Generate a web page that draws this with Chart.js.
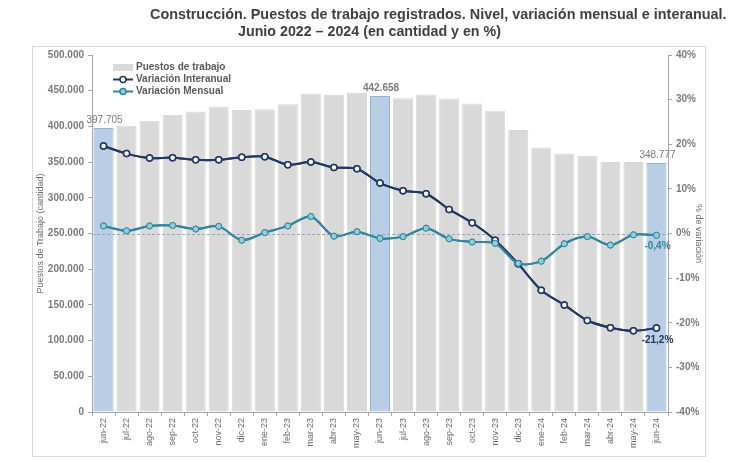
<!DOCTYPE html>
<html>
<head>
<meta charset="utf-8">
<script src="https://cdn.jsdelivr.net/npm/chart.js@4.4.1/dist/chart.umd.min.js"></script>
<style>
  html, body { margin: 0; padding: 0; background: #fff; }
  #wrap { width: 730px; height: 462px; position: relative; }
</style>
</head>
<body>
<div id="wrap"><canvas id="chart" width="730" height="462"></canvas></div>
<script>
// Data
const months = ['jun-22', 'jul-22', 'ago-22', 'sep-22', 'oct-22', 'nov-22', 'dic-22',
  'ene-23', 'feb-23', 'mar-23', 'abr-23', 'may-23', 'jun-23', 'jul-23', 'ago-23',
  'sep-23', 'oct-23', 'nov-23', 'dic-23', 'ene-24', 'feb-24', 'mar-24', 'abr-24',
  'may-24', 'jun-24'];
const puestos = [397705, 401000, 408000, 416000, 421000, 428000, 423000,
  424000, 431000, 446000, 444000, 447000, 442658, 439600, 444800,
  439000, 432000, 422000, 394800, 370600, 362000, 359000, 350000,
  350000, 348777];
const varInteranual = [19.6, 17.9, 16.9, 17.0, 16.5, 16.5, 17.1,
  17.2, 15.4, 16.0, 14.8, 14.5, 11.3, 9.6, 8.9,
  5.4, 2.4, -1.5, -6.8, -12.7, -16.0, -19.5, -21.1,
  -21.8, -21.2];
const varMensual = [1.7, 0.6, 1.7, 1.8, 1.0, 1.6, -1.5,
  0.2, 1.7, 3.8, -0.6, 0.4, -1.1, -0.7, 1.2,
  -1.2, -1.9, -2.2, -6.7, -6.2, -2.3, -0.7, -2.6,
  -0.3, -0.4];
const highlighted = ['jun-22', 'jun-23', 'jun-24'];
const leftTicks = { min: 0, max: 500000, step: 50000 };
const rightTicks = { min: -40, max: 40, step: 10 };

const titleLines = [
  'Construcción. Puestos de trabajo registrados. Nivel, variación mensual e interanual.',
  'Junio 2022 – 2024 (en cantidad y en %)'
];

const GRAY_BAR = '#d9d9d9';
const BLUE_BAR = '#b9cde5';
const NAVY = '#1f3864';
const TEAL = '#31859c';
const TEAL_LIGHT = '#92cddc';
const TXT = '#7a7a7a';

// thousands with dots
function fmt(n) {
  return String(Math.round(n)).replace(/\B(?=(\d{3})+(?!\d))/g, '.');
}

const barColors = months.map(m => highlighted.includes(m) ? BLUE_BAR : GRAY_BAR);
const barBorders = months.map(m => highlighted.includes(m) ? '#95b3d7' : GRAY_BAR);

// frame, titles, zero line, legend and value labels
const extras = {
  id: 'extras',
  beforeDraw(chart) {
    const ctx = chart.ctx;
    ctx.save();
    ctx.fillStyle = '#fff';
    ctx.fillRect(0, 0, chart.width, chart.height);
    ctx.strokeStyle = '#d9d9d9';
    ctx.lineWidth = 1;
    ctx.strokeRect(32.5, 46.5, 673, 410);

    // title, two lines fitted to the widths in the reference
    ctx.fillStyle = '#404040';
    ctx.textBaseline = 'middle';
    ctx.textAlign = 'left';
    const spots = [{ x: 150, y: 15, w: 577 }, { x: 238, y: 32, w: 263 }];
    titleLines.forEach((t, i) => {
      ctx.font = 'bold 14px "Liberation Sans", Arial, sans-serif';
      const mw = ctx.measureText(t).width;
      const size = 14 * spots[i].w / mw;
      ctx.font = 'bold ' + size.toFixed(2) + 'px "Liberation Sans", Arial, sans-serif';
      ctx.fillText(t, spots[i].x, spots[i].y);
    });
    ctx.restore();
  },
  beforeDatasetsDraw(chart) {
    // nothing
  },
  afterDatasetsDraw(chart) {
    const ctx = chart.ctx;
    const area = chart.chartArea;
    const y2 = chart.scales.y2;
    ctx.save();

    // dashed zero line
    const zy = Math.round(y2.getPixelForValue(0)) + 0.5;
    ctx.strokeStyle = '#8ea9c8';
    ctx.setLineDash([3, 2]);
    ctx.lineWidth = 1;
    ctx.beginPath();
    ctx.moveTo(area.left, zy);
    ctx.lineTo(area.right, zy);
    ctx.stroke();
    ctx.setLineDash([]);

    // redraw lines on top of dashed line
    [1, 2].forEach(i => chart.getDatasetMeta(i).controller.draw());

    // legend
    ctx.font = 'bold 10px "Liberation Sans", Arial, sans-serif';
    ctx.textBaseline = 'middle';
    ctx.textAlign = 'left';
    ctx.fillStyle = GRAY_BAR;
    ctx.fillRect(113, 64, 20, 7);
    ctx.fillStyle = '#595959';
    ctx.fillText(chart.data.datasets[0].label, 136, 67.5);
    const legLines = [
      { y: 79.5, ds: chart.data.datasets[1] },
      { y: 91.5, ds: chart.data.datasets[2] }
    ];
    legLines.forEach(l => {
      ctx.strokeStyle = l.ds.borderColor;
      ctx.lineWidth = 2;
      ctx.beginPath();
      ctx.moveTo(113, l.y);
      ctx.lineTo(133, l.y);
      ctx.stroke();
      ctx.beginPath();
      ctx.arc(123, l.y, 3, 0, Math.PI * 2);
      ctx.fillStyle = l.ds.pointBackgroundColor;
      ctx.fill();
      ctx.lineWidth = 1.5;
      ctx.stroke();
      ctx.fillStyle = '#595959';
      ctx.fillText(l.ds.label, 136, l.y);
    });

    // bar value labels
    const barMeta = chart.getDatasetMeta(0);
    ctx.textAlign = 'center';
    ctx.textBaseline = 'bottom';
    highlighted.forEach((m, k) => {
      const i = months.indexOf(m);
      const el = barMeta.data[i];
      ctx.font = (k === 1 ? 'bold ' : '') + '10px "Liberation Sans", Arial, sans-serif';
      ctx.fillStyle = TXT;
      ctx.fillText(fmt(puestos[i]), el.x + 1, el.y - 3);
    });

    // last point labels
    const last = months.length - 1;
    const pi = chart.getDatasetMeta(1).data[last];
    const pm = chart.getDatasetMeta(2).data[last];
    ctx.font = 'bold 10px "Liberation Sans", Arial, sans-serif';
    ctx.textBaseline = 'middle';
    ctx.fillStyle = NAVY;
    ctx.fillText(varInteranual[last].toFixed(1).replace('.', ',') + '%', pi.x + 1, pi.y + 12);
    ctx.fillStyle = TEAL;
    ctx.fillText(varMensual[last].toFixed(1).replace('.', ',') + '%', pm.x + 1, pm.y + 11);

    ctx.restore();
  }
};

const ctx = document.getElementById('chart').getContext('2d');
const chart = new Chart(ctx, {
  type: 'bar',
  data: {
    labels: months,
    datasets: [{
      type: 'bar',
      label: 'Puestos de trabajo',
      data: puestos,
      yAxisID: 'y',
      backgroundColor: barColors,
      borderColor: barBorders,
      borderWidth: 1,
      categoryPercentage: 1,
      barPercentage: 0.87,
      order: 3
    }, {
      type: 'line',
      label: 'Variación Interanual',
      data: varInteranual,
      yAxisID: 'y2',
      borderColor: NAVY,
      borderWidth: 2,
      pointBackgroundColor: '#ffffff',
      pointBorderColor: NAVY,
      pointBorderWidth: 1.5,
      pointRadius: 3,
      tension: 0.3,
      order: 1
    }, {
      type: 'line',
      label: 'Variación Mensual',
      data: varMensual,
      yAxisID: 'y2',
      borderColor: TEAL,
      borderWidth: 2,
      pointBackgroundColor: TEAL_LIGHT,
      pointBorderColor: TEAL,
      pointBorderWidth: 1,
      pointRadius: 3,
      tension: 0.3,
      order: 2
    }]
  },
  options: {
    responsive: false,
    animation: false,
    devicePixelRatio: 1,
    layout: { padding: { top: 55, left: 0, right: 0, bottom: 0 } },
    plugins: {
      legend: { display: false },
      tooltip: { enabled: false },
      title: { display: false }
    },
    scales: {
      x: {
        offset: true,
        grid: { display: true, drawOnChartArea: false, tickLength: 4, color: '#a6a6a6', offset: true },
        border: { display: true, color: '#a6a6a6' },
        ticks: {
          autoSkip: false,
          maxRotation: 90,
          minRotation: 90,
          padding: 2,
          color: '#6b6b6b',
          font: { family: '"Liberation Sans", Arial, sans-serif', size: 9 }
        },
        afterFit(scale) { scale.height = 50; }
      },
      y: {
        position: 'left',
        min: leftTicks.min,
        max: leftTicks.max,
        grid: { drawOnChartArea: false, tickLength: 4, color: '#a6a6a6' },
        border: { display: true, color: '#a6a6a6' },
        ticks: {
          stepSize: leftTicks.step,
          padding: 4,
          color: TXT,
          font: { family: '"Liberation Sans", Arial, sans-serif', size: 10, weight: 'bold' },
          callback: v => fmt(v)
        },
        title: {
          display: true,
          text: 'Puestos de Trabajo (cantidad)',
          color: '#6b6b6b',
          font: { family: '"Liberation Sans", Arial, sans-serif', size: 9 },
          padding: { top: 35, bottom: 0 }
        },
        afterFit(scale) { scale.width = 92; }
      },
      y2: {
        position: 'right',
        min: rightTicks.min,
        max: rightTicks.max,
        grid: { drawOnChartArea: false, tickLength: 4, color: '#a6a6a6' },
        border: { display: true, color: '#a6a6a6' },
        ticks: {
          stepSize: rightTicks.step,
          padding: 4,
          color: TXT,
          font: { family: '"Liberation Sans", Arial, sans-serif', size: 10, weight: 'bold' },
          callback: v => v + '%'
        },
        title: {
          display: true,
          text: '% de variación',
          color: '#6b6b6b',
          font: { family: '"Liberation Sans", Arial, sans-serif', size: 9 },
          padding: { top: 26, bottom: 0 }
        },
        afterFit(scale) { scale.width = 62; }
      }
    }
  },
  plugins: [extras]
});
</script>
</body>
</html>
